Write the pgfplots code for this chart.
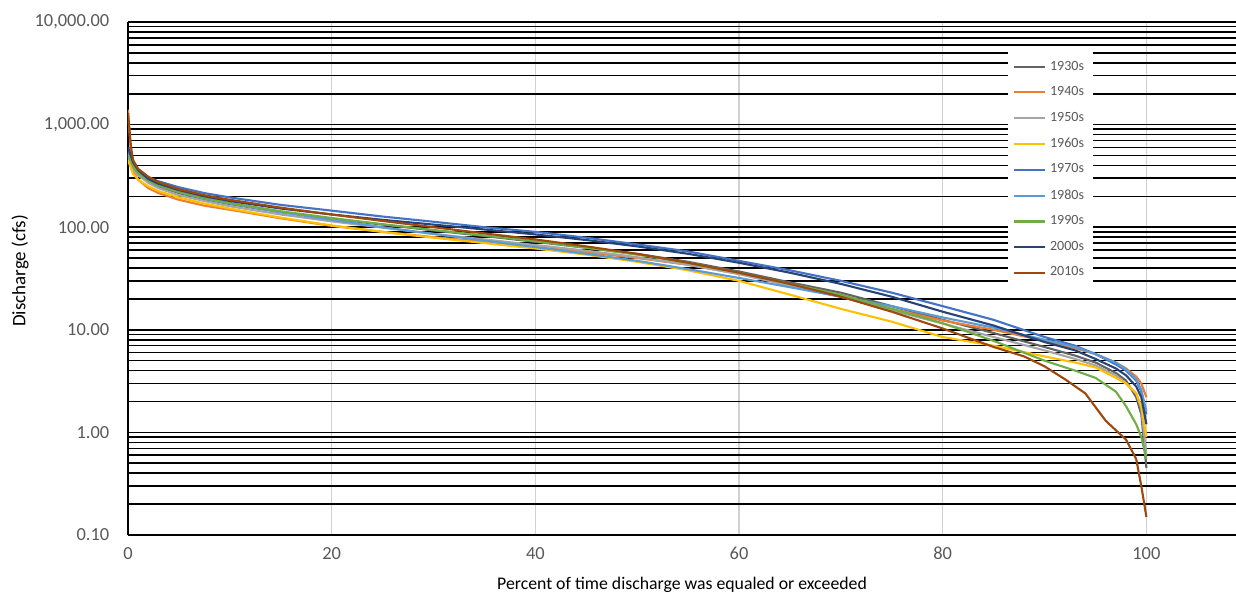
\documentclass[border=0pt]{standalone}
\usepackage{fontspec}
\setmainfont{Carlito}
\usepackage{pgfplots}
\pgfplotsset{compat=1.18}

\definecolor{dA}{HTML}{636363}
\definecolor{dB}{HTML}{ED7D31}
\definecolor{dC}{HTML}{A5A5A5}
\definecolor{dD}{HTML}{FFC000}
\definecolor{dE}{HTML}{4472C4}
\definecolor{dF}{HTML}{5B9BD5}
\definecolor{dG}{HTML}{70AD47}
\definecolor{dH}{HTML}{264478}
\definecolor{dI}{HTML}{9E480E}
\definecolor{txt}{HTML}{595959}

\begin{document}
\begin{tikzpicture}
\begin{axis}[
    scale only axis,
    width=22.16cm, height=10.26cm,
    ymode=log, ymin=0.1, ymax=10000,
    xmin=0, xmax=108.8,
    xtick={0,20,40,60,80,100},
    ytick={0.1,1,10,100,1000,10000},
    yticklabels={0.10,1.00,10.00,100.00,{1,000.00},{10,000.00}},
    minor ytick={0.2,0.3,0.4,0.5,0.6,0.7,0.8,0.9,2,3,4,5,6,7,8,9,20,30,40,50,60,70,80,90,200,300,400,500,600,700,800,900,2000,3000,4000,5000,6000,7000,8000,9000},
    ymajorgrids, yminorgrids, xmajorgrids,
    major y grid style={black, line width=0.9pt},
    minor y grid style={black, line width=0.9pt},
    major x grid style={black!18, line width=0.8pt},
    major tick length=0pt, minor tick length=0pt,
    axis lines=left,
    axis line style={-, black, line width=0.9pt},
    /pgf/number format/assume math mode=true,
    tick label style={font=\fontsize{10.5}{12}\selectfont, text=txt},
    yticklabel style={xshift=-0.25cm},
    xticklabel style={yshift=-0.12cm},
    xlabel={Percent of time discharge was equaled or exceeded},
    ylabel={Discharge (cfs)},
    xlabel style={font=\fontsize{10.1}{12}\selectfont, at={(axis description cs:0.5,-0.097)}, anchor=center},
    ylabel style={font=\fontsize{10.8}{12}\selectfont, at={(axis description cs:-0.0975,0.515)}, anchor=center},
    legend style={at={(axis description cs:0.794,0.942)}, anchor=north west,
        draw=none, fill=white, font=\fontsize{8}{9.6}\selectfont, text=txt,
        row sep=3.9pt, inner sep=3pt},
    legend cell align=left,
    legend image code/.code={\draw[#1] (0cm,0cm) -- (0.62cm,0cm);},
    every axis plot/.append style={line width=1.2pt},
]
% 1930s
\addplot[dA] coordinates {(0,520) (0.5,390) (1,330) (2,280) (3,250) (5,215) (7.5,188) (10,168) (15,140) (20,121) (25,106) (30,93) (35,82) (40,72) (45,63) (50,55) (55,46) (60,37) (65,29) (70,23) (75,17) (80,12.5) (85,9.3) (90,6.8) (93,5.6) (95,4.8) (97,3.8) (98,3.2) (99,2.2) (99.5,1.5) (100,0.45)};
% 1940s
\addplot[dB] coordinates {(0,1400) (0.3,500) (0.5,350) (1,290) (2,240) (3,215) (5,185) (7.5,162) (10,148) (15,122) (20,103) (25,90) (30,80) (35,72) (40,64) (45,57) (50,50) (55,43) (60,35) (65,27) (70,21) (75,16) (80,12.3) (85,10) (90,7.8) (93,6.6) (95,5.8) (97,4.8) (98,4.2) (99,3.5) (99.5,3) (100,2.2)};
% 1950s
\addplot[dC] coordinates {(0,480) (0.5,370) (1,320) (2,270) (3,240) (5,205) (7.5,180) (10,160) (15,133) (20,114) (25,99) (30,86) (35,76) (40,67) (45,59) (50,51) (55,43) (60,35) (65,27) (70,21) (75,15.5) (80,11.5) (85,8.5) (90,6.3) (93,5.2) (95,4.5) (97,3.6) (98,3.0) (99,2.4) (99.5,1.7) (100,0.6)};
% 1960s
\addplot[dD] coordinates {(0,450) (0.5,330) (1,290) (2,250) (3,225) (5,195) (7.5,170) (10,152) (15,124) (20,104) (25,90) (30,79) (35,70) (40,62) (45,54) (50,46) (55,38) (60,30) (65,22) (70,16) (75,12) (80,8.5) (85,7) (90,5.5) (93,4.8) (95,4.3) (97,3.4) (98,3.0) (99,2.4) (99.5,1.8) (100,0.9)};
% 1970s
\addplot[dE] coordinates {(0,550) (0.5,420) (1,360) (2,305) (3,280) (5,245) (7.5,215) (10,195) (15,165) (20,145) (25,127) (30,113) (35,100) (40,90) (45,79) (50,68) (55,58) (60,47) (65,38) (70,30) (75,23) (80,17) (85,12.5) (90,8.5) (93,7) (95,5.8) (97,4.6) (98,4) (99,3.2) (99.5,2.5) (100,1.5)};
% 1980s
\addplot[dF] coordinates {(0,500) (0.5,400) (1,340) (2,285) (3,255) (5,220) (7.5,190) (10,170) (15,140) (20,118) (25,100) (30,86) (35,74) (40,64) (45,55) (50,47) (55,39) (60,32) (65,26) (70,21) (75,17) (80,13.2) (85,10.5) (90,8) (93,6.8) (95,5.8) (97,4.8) (98,4.1) (99,3.3) (99.5,2.6) (100,1.6)};
% 1990s
\addplot[dG] coordinates {(0,520) (0.5,390) (1,335) (2,285) (3,255) (5,220) (7.5,192) (10,172) (15,143) (20,123) (25,107) (30,94) (35,83) (40,73) (45,63) (50,54) (55,45) (60,36) (65,28) (70,22) (75,16) (80,11.6) (85,7.8) (90,5) (93,4) (95,3.4) (97,2.5) (98,1.8) (99,1.2) (99.5,0.9) (100,0.55)};
% 2000s
\addplot[dH] coordinates {(0,600) (0.5,430) (1,360) (2,295) (3,265) (5,230) (7.5,200) (10,180) (15,152) (20,133) (25,118) (30,106) (35,95) (40,85) (45,75) (50,65) (55,55) (60,45) (65,36) (70,28) (75,21) (80,15) (85,11) (90,7.6) (93,6.3) (95,5.2) (97,4.2) (98,3.6) (99,2.8) (99.5,2.2) (100,1.2)};
% 2010s
\addplot[dI] coordinates {(0,1300) (0.3,600) (0.5,450) (1,370) (2,310) (3,275) (5,235) (7.5,205) (10,185) (15,155) (20,133) (25,115) (30,100) (35,87) (40,76) (45,65) (50,55) (55,45) (60,36) (65,28) (70,21) (75,15) (80,10.3) (85,6.8) (88,5.5) (90,4.4) (92,3.3) (94,2.4) (96,1.3) (97,1.05) (98,0.85) (99,0.55) (99.5,0.3) (100,0.15)};
\legend{1930s,1940s,1950s,1960s,1970s,1980s,1990s,2000s,2010s}
\end{axis}
\pgfresetboundingbox
\useasboundingbox (-2.56cm,-1.2cm) rectangle (22.16cm,10.7cm);
\end{tikzpicture}
\end{document}
